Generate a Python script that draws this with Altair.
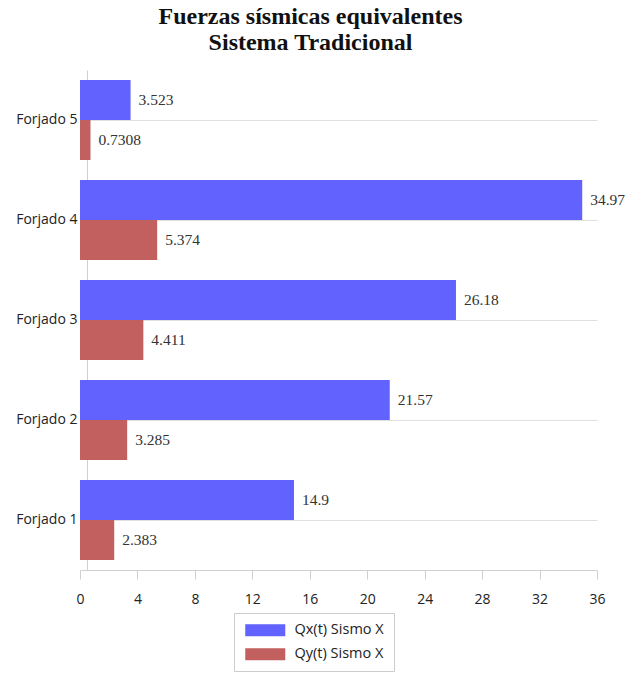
import altair as alt
import pandas as pd

# Floors and the two equivalent seismic force series
forjados = ["Forjado 5", "Forjado 4", "Forjado 3", "Forjado 2", "Forjado 1"]
qx_sismo_x = [3.523, 34.97, 26.18, 21.57, 14.9]
qy_sismo_x = [0.7308, 5.374, 4.411, 3.285, 2.383]
series = ["Qx(t) Sismo X", "Qy(t) Sismo X"]
colors = ["#6262ff", "#c2605f"]
x_ticks = [0, 4, 8, 12, 16, 20, 24, 28, 32, 36]

rows = []
for f, qx, qy in zip(forjados, qx_sismo_x, qy_sismo_x):
    rows.append({"forjado": f, "serie": series[0], "valor": qx})
    rows.append({"forjado": f, "serie": series[1], "valor": qy})
df = pd.DataFrame(rows)
df["etiqueta"] = df["valor"].map(lambda v: f"{v:g}")

y_enc = alt.Y(
    "forjado:N",
    sort=forjados,
    title=None,
    scale=alt.Scale(paddingInner=0.2, paddingOuter=0.1),
    axis=alt.Axis(
        domainColor="#d0d0d0",
        ticks=False,
        labelPadding=10,
        offset=-7,
        grid=True,
        gridColor="#e0e0e0",
        labelFont="Open Sans",
        labelFontSize=14,
        labelColor="#222222",
    ),
)
y_off = alt.YOffset("serie:N", sort=series)

bars = alt.Chart(df).mark_bar(opacity=1).encode(
    x=alt.X(
        "valor:Q",
        title=None,
        scale=alt.Scale(domain=[0, 36], nice=False),
        axis=alt.Axis(
            values=x_ticks,
            grid=False,
            labelFlush=False,
            domainColor="#d0d0d0",
            tickColor="#d0d0d0",
            tickSize=9,
            labelPadding=13,
            labelFont="Open Sans",
            labelFontSize=14,
            labelColor="#222222",
        ),
    ),
    y=y_enc,
    yOffset=y_off,
    color=alt.Color(
        "serie:N",
        sort=series,
        scale=alt.Scale(domain=series, range=colors),
        legend=alt.Legend(
            title=None,
            orient="none",
            legendX=154,
            legendY=543,
            # wide flat swatch: 40 x 12 px
            symbolType="M-1,-1H5.67V1H-1Z",
            symbolSize=144,
            symbolStrokeWidth=0,
            symbolOpacity=1,
            rowPadding=9,
            labelFont="Open Sans",
            labelFontSize=14.5,
            labelColor="#222222",
            labelOffset=36,
            padding=10,
            strokeColor="#cccccc",
            fillColor="white",
        ),
    ),
)

labels = alt.Chart(df).mark_text(
    align="left",
    baseline="middle",
    dx=8,
    font="Liberation Serif",
    fontSize=15.5,
    color="#333333",
).encode(
    x="valor:Q",
    y=alt.Y("forjado:N", sort=forjados),
    yOffset=y_off,
    text="etiqueta:N",
)

chart = (
    alt.layer(bars, labels)
    .properties(
        width=517,
        height=500,
        background="white",
        padding={"left": 80, "top": 70, "right": 44, "bottom": 104},
        autosize=alt.AutoSizeParams(type="none"),
        title=alt.TitleParams(
            text=["Fuerzas sísmicas equivalentes", "Sistema Tradicional"],
            font="Liberation Serif",
            fontSize=24,
            fontWeight="bold",
            color="#111111",
            anchor="middle",
            dx=-28,
            offset=15,
            lineHeight=26,
        ),
    )
    .configure_view(stroke="transparent", strokeWidth=0)
)

chart.save("out.html", embed_options={"renderer": "svg", "actions": False})
